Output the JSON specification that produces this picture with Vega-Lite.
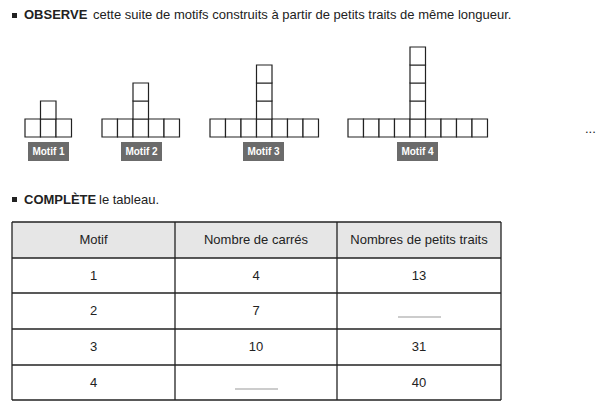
{
  "$schema": "https://vega.github.io/schema/vega-lite/v6.json",
  "width": 611,
  "height": 413,
  "padding": 0,
  "autosize": "none",
  "background": "white",
  "config": {"view": {"stroke": null}, "font": "Liberation Sans"},
  "datasets": {
    "squares": [
      {"x": 25, "x2": 40.5, "y": 119, "y2": 137}, {"x": 40.5, "x2": 56, "y": 119, "y2": 137}, {"x": 56, "x2": 71.5, "y": 119, "y2": 137},
      {"x": 40.5, "x2": 56, "y": 101, "y2": 119},
      {"x": 102, "x2": 117.5, "y": 119, "y2": 137}, {"x": 117.5, "x2": 133, "y": 119, "y2": 137}, {"x": 133, "x2": 148.5, "y": 119, "y2": 137}, {"x": 148.5, "x2": 164, "y": 119, "y2": 137}, {"x": 164, "x2": 179.5, "y": 119, "y2": 137},
      {"x": 133, "x2": 148.5, "y": 101, "y2": 119}, {"x": 133, "x2": 148.5, "y": 83, "y2": 101},
      {"x": 210, "x2": 225.5, "y": 119, "y2": 137}, {"x": 225.5, "x2": 241, "y": 119, "y2": 137}, {"x": 241, "x2": 256.5, "y": 119, "y2": 137}, {"x": 256.5, "x2": 272, "y": 119, "y2": 137}, {"x": 272, "x2": 287.5, "y": 119, "y2": 137}, {"x": 287.5, "x2": 303, "y": 119, "y2": 137}, {"x": 303, "x2": 318.5, "y": 119, "y2": 137},
      {"x": 256.5, "x2": 272, "y": 101, "y2": 119}, {"x": 256.5, "x2": 272, "y": 83, "y2": 101}, {"x": 256.5, "x2": 272, "y": 65, "y2": 83},
      {"x": 348, "x2": 363.5, "y": 119, "y2": 137}, {"x": 363.5, "x2": 379, "y": 119, "y2": 137}, {"x": 379, "x2": 394.5, "y": 119, "y2": 137}, {"x": 394.5, "x2": 410, "y": 119, "y2": 137}, {"x": 410, "x2": 425.5, "y": 119, "y2": 137}, {"x": 425.5, "x2": 441, "y": 119, "y2": 137}, {"x": 441, "x2": 456.5, "y": 119, "y2": 137}, {"x": 456.5, "x2": 472, "y": 119, "y2": 137}, {"x": 472, "x2": 487.5, "y": 119, "y2": 137},
      {"x": 410, "x2": 425.5, "y": 101, "y2": 119}, {"x": 410, "x2": 425.5, "y": 83, "y2": 101}, {"x": 410, "x2": 425.5, "y": 65, "y2": 83}, {"x": 410, "x2": 425.5, "y": 47, "y2": 65}
    ],
    "labels": [
      {"t": "Motif 1", "x": 28, "x2": 69, "y": 142, "y2": 161},
      {"t": "Motif 2", "x": 121, "x2": 162, "y": 142, "y2": 161},
      {"t": "Motif 3", "x": 243, "x2": 284, "y": 142, "y2": 161},
      {"t": "Motif 4", "x": 397, "x2": 438, "y": 142, "y2": 161}
    ],
    "bullets": [
      {"x": 12, "x2": 17, "y": 13, "y2": 18},
      {"x": 12, "x2": 17, "y": 197, "y2": 202}
    ],
    "lines": [
      {"x": 12, "x2": 501, "y": 222, "y2": 222, "c": "line"},
      {"x": 12, "x2": 501, "y": 258, "y2": 258, "c": "line"},
      {"x": 12, "x2": 501, "y": 293, "y2": 293, "c": "line"},
      {"x": 12, "x2": 501, "y": 329, "y2": 329, "c": "line"},
      {"x": 12, "x2": 501, "y": 365, "y2": 365, "c": "line"},
      {"x": 12, "x2": 501, "y": 400, "y2": 400, "c": "line"},
      {"x": 12, "x2": 12, "y": 222, "y2": 400, "c": "line"},
      {"x": 175, "x2": 175, "y": 222, "y2": 400, "c": "line"},
      {"x": 337, "x2": 337, "y": 222, "y2": 400, "c": "line"},
      {"x": 501, "x2": 501, "y": 222, "y2": 400, "c": "line"},
      {"x": 398, "x2": 441, "y": 317, "y2": 317, "c": "blank"},
      {"x": 235, "x2": 278, "y": 389, "y2": 389, "c": "blank"}
    ],
    "bold": [
      {"t": "OBSERVE", "x": 24, "y": 15},
      {"t": "COMPLÈTE", "x": 24, "y": 200}
    ],
    "left": [
      {"t": "cette suite de motifs construits à partir de petits traits de même longueur.", "x": 93, "y": 15},
      {"t": "le tableau.", "x": 99, "y": 200},
      {"t": "...", "x": 585, "y": 129}
    ],
    "center": [
      {"t": "Motif", "x": 93.5, "y": 240},
      {"t": "Nombre de carrés", "x": 256, "y": 240},
      {"t": "Nombres de petits traits", "x": 419, "y": 240},
      {"t": "1", "x": 93.5, "y": 276},
      {"t": "4", "x": 256, "y": 276},
      {"t": "13", "x": 419, "y": 276},
      {"t": "2", "x": 93.5, "y": 311},
      {"t": "7", "x": 256, "y": 311},
      {"t": "3", "x": 93.5, "y": 347},
      {"t": "10", "x": 256, "y": 347},
      {"t": "31", "x": 419, "y": 347},
      {"t": "4", "x": 93.5, "y": 383},
      {"t": "40", "x": 419, "y": 383}
    ]
  },
  "encoding": {
    "x": {"field": "x", "type": "quantitative", "scale": {"domain": [0, 611], "nice": false, "zero": false}, "axis": null},
    "y": {"field": "y", "type": "quantitative", "scale": {"domain": [0, 413], "nice": false, "zero": false, "reverse": true}, "axis": null}
  },
  "layer": [
    {
      "data": {"values": [{"x": 12, "x2": 501, "y": 222, "y2": 258}]},
      "mark": {"type": "rect", "fill": "#e6e6e6"},
      "encoding": {"x2": {"field": "x2"}, "y2": {"field": "y2"}}
    },
    {
      "data": {"name": "squares"},
      "mark": {"type": "rect", "fill": "white", "stroke": "#222222", "strokeWidth": 1.2},
      "encoding": {"x2": {"field": "x2"}, "y2": {"field": "y2"}}
    },
    {
      "data": {"name": "labels"},
      "mark": {"type": "rect", "fill": "#6b6b6b"},
      "encoding": {"x2": {"field": "x2"}, "y2": {"field": "y2"}}
    },
    {
      "data": {"name": "labels"},
      "transform": [{"calculate": "(datum.x + datum.x2) / 2", "as": "cx"}, {"calculate": "(datum.y + datum.y2) / 2", "as": "cy"}],
      "mark": {"type": "text", "color": "white", "fontWeight": "bold", "fontSize": 10, "align": "center", "baseline": "middle"},
      "encoding": {"x": {"field": "cx", "type": "quantitative"}, "y": {"field": "cy", "type": "quantitative"}, "text": {"field": "t"}}
    },
    {
      "data": {"name": "bullets"},
      "mark": {"type": "rect", "fill": "#222222"},
      "encoding": {"x2": {"field": "x2"}, "y2": {"field": "y2"}}
    },
    {
      "data": {"name": "lines"},
      "mark": {"type": "rule", "strokeWidth": 1.3},
      "encoding": {
        "x2": {"field": "x2"}, "y2": {"field": "y2"},
        "color": {"field": "c", "type": "nominal", "scale": {"domain": ["line", "blank"], "range": ["#222222", "#bbbbbb"]}, "legend": null}
      }
    },
    {
      "data": {"name": "bold"},
      "mark": {"type": "text", "fontWeight": "bold", "fontSize": 13, "align": "left", "baseline": "middle", "color": "#222222"},
      "encoding": {"text": {"field": "t"}}
    },
    {
      "data": {"name": "left"},
      "mark": {"type": "text", "fontSize": 13, "align": "left", "baseline": "middle", "color": "#222222"},
      "encoding": {"text": {"field": "t"}}
    },
    {
      "data": {"name": "center"},
      "mark": {"type": "text", "fontSize": 13, "align": "center", "baseline": "middle", "color": "#222222"},
      "encoding": {"text": {"field": "t"}}
    }
  ]
}
